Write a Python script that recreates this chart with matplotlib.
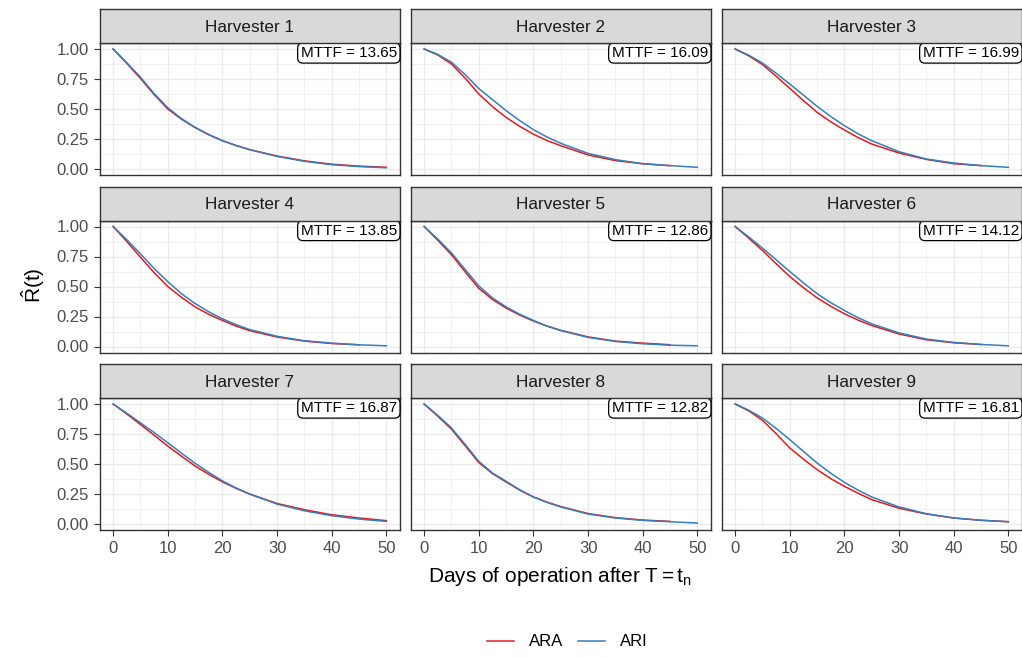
import numpy as np
import matplotlib
matplotlib.use("Agg")
import matplotlib.pyplot as plt
from matplotlib.lines import Line2D

plt.rcParams['font.family'] = ['Liberation Sans', 'DejaVu Sans']
plt.rcParams['mathtext.fontset'] = 'custom'
plt.rcParams['mathtext.rm'] = 'Liberation Sans'
plt.rcParams['mathtext.it'] = 'Liberation Sans:italic'

# ---- data -------------------------------------------------------------
harvesters = [f"Harvester {i}" for i in range(1, 10)]
days = [0, 2.5, 5, 7.5, 10, 12.5, 15, 17.5, 20, 22.5, 25, 30, 35, 40, 45, 50]
mttf = [13.65, 16.09, 16.99, 13.85, 12.86, 14.12, 16.87, 12.82, 16.81]

nan = np.nan
# estimated reliability R(t), ARA model
ara_values = [
    [1, 0.880, 0.755, 0.620, 0.500, 0.415, 0.345, 0.285, 0.236, 0.196, 0.162, 0.108, 0.068, 0.040, 0.024, 0.014],
    [1, 0.950, 0.875, 0.757, 0.625, 0.520, 0.430, 0.355, 0.290, 0.237, 0.194, 0.117, 0.070, 0.044, 0.028, nan],
    [1, 0.943, 0.870, 0.773, 0.672, 0.570, 0.472, 0.393, 0.325, 0.262, 0.208, 0.133, 0.080, 0.044, 0.028, nan],
    [1, 0.875, 0.744, 0.615, 0.500, 0.410, 0.330, 0.268, 0.217, 0.170, 0.132, 0.079, 0.045, 0.025, 0.014, nan],
    [1, 0.885, 0.765, 0.622, 0.485, 0.392, 0.320, 0.262, 0.212, 0.170, 0.135, 0.080, 0.045, 0.028, 0.015, nan],
    [1, 0.902, 0.800, 0.690, 0.583, 0.490, 0.405, 0.335, 0.273, 0.220, 0.175, 0.104, 0.056, 0.031, 0.017, nan],
    [1, 0.917, 0.829, 0.740, 0.649, 0.565, 0.483, 0.414, 0.351, 0.297, 0.249, 0.171, 0.119, 0.077, 0.050, 0.028],
    [1, 0.898, 0.790, 0.652, 0.512, 0.420, 0.350, 0.282, 0.225, 0.182, 0.145, 0.087, 0.053, 0.033, 0.022, nan],
    [1, 0.942, 0.864, 0.753, 0.633, 0.540, 0.453, 0.378, 0.314, 0.256, 0.203, 0.131, 0.083, 0.050, 0.031, 0.019],
]
# estimated reliability R(t), ARI model
ari_values = [
    [1, 0.885, 0.765, 0.628, 0.510, 0.420, 0.347, 0.287, 0.236, 0.195, 0.160, 0.105, 0.064, 0.036, 0.020, 0.010],
    [1, 0.955, 0.890, 0.787, 0.670, 0.578, 0.486, 0.403, 0.328, 0.266, 0.214, 0.130, 0.078, 0.044, 0.028, 0.014],
    [1, 0.948, 0.883, 0.798, 0.708, 0.615, 0.522, 0.437, 0.361, 0.293, 0.236, 0.144, 0.083, 0.050, 0.028, 0.014],
    [1, 0.890, 0.772, 0.650, 0.540, 0.440, 0.358, 0.289, 0.231, 0.182, 0.141, 0.085, 0.048, 0.028, 0.014, 0.006],
    [1, 0.895, 0.780, 0.642, 0.505, 0.405, 0.330, 0.268, 0.217, 0.170, 0.132, 0.076, 0.042, 0.023, 0.011, 0.006],
    [1, 0.912, 0.820, 0.723, 0.625, 0.530, 0.440, 0.365, 0.300, 0.240, 0.189, 0.113, 0.062, 0.034, 0.017, 0.006],
    [1, 0.923, 0.843, 0.762, 0.677, 0.590, 0.506, 0.430, 0.359, 0.300, 0.249, 0.166, 0.110, 0.069, 0.041, 0.022],
    [1, 0.905, 0.800, 0.663, 0.522, 0.425, 0.356, 0.285, 0.225, 0.180, 0.142, 0.083, 0.050, 0.030, 0.019, 0.008],
    [1, 0.948, 0.883, 0.796, 0.703, 0.605, 0.508, 0.423, 0.347, 0.282, 0.225, 0.142, 0.086, 0.050, 0.031, 0.019],
]
x_ticks = [0, 10, 20, 30, 40, 50]
y_ticks = [0.00, 0.25, 0.50, 0.75, 1.00]
series_names = ["ARA", "ARI"]
series_colors = ["#E41A1C", "#377EB8"]

# ---- layout (pixel grid of the figure) --------------------------------
W, H = 1022, 657
fig = plt.figure(figsize=(W / 100, H / 100), dpi=100)

col_left = [99.5, 410.5, 721.5]
panel_w = 300.5
row_top = [9, 186.5, 364]
strip_h = 34
panel_h = 132

border = "#333333"
grid_major = "#EBEBEB"
tick_col = "#4D4D4D"

for k, name in enumerate(harvesters):
    r, c = divmod(k, 3)
    x0 = col_left[c]
    top = row_top[r]

    ax = fig.add_axes([x0 / W, 1 - (top + strip_h + panel_h) / H,
                       panel_w / W, panel_h / H])
    sx = fig.add_axes([x0 / W, 1 - (top + strip_h) / H,
                       panel_w / W, strip_h / H])

    # strip
    sx.set_facecolor("#D9D9D9")
    sx.set_xticks([])
    sx.set_yticks([])
    for s in sx.spines.values():
        s.set_color(border)
        s.set_linewidth(1.0)
    sx.text(0.5, 0.47, name, ha="center", va="center", fontsize=12.3,
            color="#1A1A1A", transform=sx.transAxes)

    # panel
    ax.set_facecolor("white")
    ax.set_xlim(-2.5, 52.5)
    ax.set_ylim(-0.05, 1.05)
    ax.set_xticks(x_ticks)
    ax.set_yticks(y_ticks)
    ax.set_xticks([5, 15, 25, 35, 45], minor=True)
    ax.set_yticks([0.125, 0.375, 0.625, 0.875], minor=True)
    ax.grid(True, which="major", color=grid_major, lw=1.0, zorder=0)
    ax.grid(True, which="minor", color=grid_major, lw=0.5, zorder=0)
    ax.set_axisbelow(True)
    ax.tick_params(which="minor", length=0)
    ax.tick_params(which="major", length=4.2, width=0.8, color=border,
                   labelsize=12, labelcolor=tick_col, pad=3.5)
    ax.set_yticklabels([f"{v:.2f}" for v in y_ticks])
    if c != 0:
        ax.tick_params(axis="y", left=False, labelleft=False)
    if r != 2:
        ax.tick_params(axis="x", bottom=False, labelbottom=False)
    for s in ax.spines.values():
        s.set_color(border)
        s.set_linewidth(1.0)

    ax.plot(days, ara_values[k], color=series_colors[0], lw=1.1, zorder=3,
            solid_joinstyle="round")
    ax.plot(days, ari_values[k], color=series_colors[1], lw=1.1, zorder=4,
            solid_joinstyle="round")

    ax.annotate(f"MTTF = {mttf[k]:.2f}", xy=(1, 1), xycoords="axes fraction",
                xytext=(-2.2, -2.2), textcoords="offset points",
                ha="right", va="top", fontsize=11, color="black", zorder=6,
                annotation_clip=False,
                bbox=dict(boxstyle="round,pad=0.2,rounding_size=0.35",
                          fc="white", ec="black", lw=0.9))

# axis titles
fig.text(560.5 / W, 1 - 576 / H, r"Days of operation after $\mathrm{T = t_n}$",
         ha="center", va="center", fontsize=15, color="black")
fig.text(33 / W, 1 - 285 / H, r"$\hat{\mathrm{R}}\mathrm{(t)}$",
         ha="center", va="center", rotation=90, fontsize=15, color="black")

# legend
handles = [Line2D([], [], color=col, lw=1.1) for col in series_colors]
fig.legend(handles, series_names, loc="center",
           bbox_to_anchor=(567.5 / W, 1 - 642 / H), ncol=2, frameon=False,
           fontsize=12, handlelength=1.6, handletextpad=0.9,
           columnspacing=0.9)

fig.savefig("out.png", dpi=100)
